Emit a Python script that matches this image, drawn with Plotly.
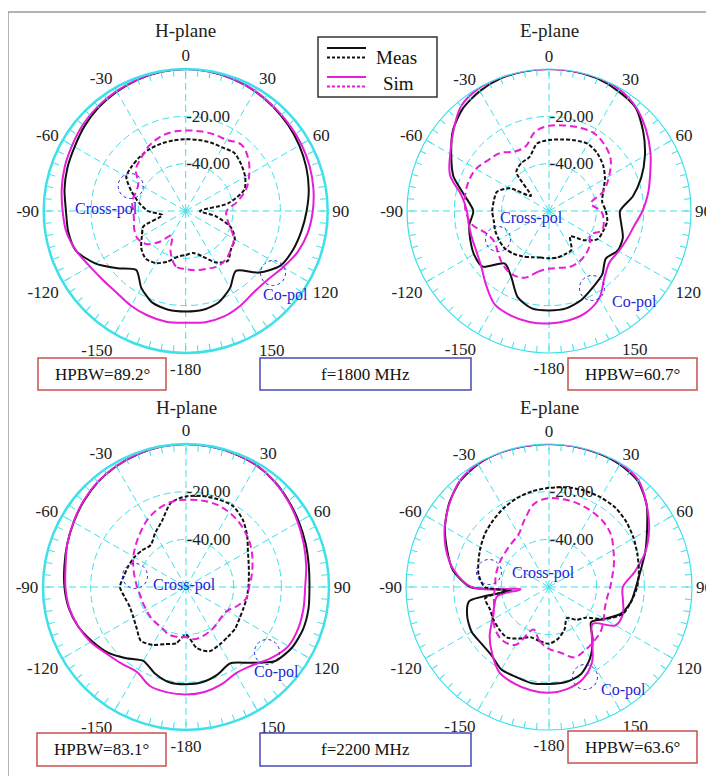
import plotly.graph_objects as go

# ---------------- data (dB, normalised) ----------------
theta = [-180,-170,-160,-150,-140,-130,-120,-110,-100,-90,-80,-70,-60,-50,-40,-30,-20,-10,
         0,10,20,30,40,50,60,70,80,90,100,110,120,130,140,150,160,170,180]
theta4 = [-180,-170,-160,-150,-140,-130,-120,-110,-100,-95,-90,-80,-70,-60,-50,-40,-30,-20,-10,
          0,10,20,30,40,50,60,70,80,90,100,110,120,130,140,150,160,170,180]

# H-plane, 1800 MHz
h1800_sim_co = [-12.8,-12.5,-13.0,-13.8,-14.8,-14.5,-13.2,-10.8,-8.8,-8.0,-6.8,-5.6,-4.6,-3.3,-2.3,-1.5,-0.8,-0.2,
                0,-0.2,-0.7,-1.4,-2.3,-3.0,-3.6,-4.3,-5.2,-6.3,-7.6,-9.6,-12.5,-14.8,-15.2,-13.8,-12.6,-12.3,-12.8]
h1800_meas_co = [-17.5,-17.6,-18.8,-22.5,-27.5,-22.4,-15.8,-10.7,-9.6,-9.4,-8.0,-6.8,-5.8,-4.2,-2.8,-1.8,-0.9,-0.3,
                 0,-0.3,-0.8,-1.5,-2.5,-3.5,-4.6,-5.8,-7.2,-8.9,-10.4,-11.8,-13.8,-19.5,-27.0,-22.5,-19.0,-17.6,-17.5]
h1800_sim_x = [-35.4,-36.2,-41.4,-48.0,-43.0,-38.3,-36.6,-36.9,-37.8,-37.9,-37.0,-37.5,-36.9,-32.5,-30.8,-28.5,-27.0,-26.2,
               -26.0,-25.8,-25.5,-25.3,-23.4,-25.5,-29.0,-32.8,-38.0,-42.7,-42.3,-40.0,-36.5,-35.0,-33.5,-33.0,-34.0,-34.6,-35.4]
h1800_meas_x = [-41.4,-40.4,-37.2,-34.6,-33.7,-35.5,-38.6,-41.0,-50.0,-44.0,-40.0,-35.6,-31.0,-30.4,-30.0,-29.7,-29.7,-29.7,
                -29.7,-29.5,-29.2,-29.0,-28.0,-29.4,-31.0,-33.6,-42.0,-54.0,-47.0,-39.6,-36.0,-35.0,-32.4,-35.0,-39.7,-42.0,-41.4]

# E-plane, 1800 MHz
e1800_sim_co = [-12.5,-12.4,-13.0,-14.3,-18.8,-22.8,-24.8,-25.5,-25.6,-25.3,-22.5,-15.5,-11.8,-7.3,-2.2,-0.3,0,0,
                0,0,0,-0.6,-2.8,-6.5,-10.5,-14.5,-17.5,-20.5,-23.5,-25.0,-26.0,-26.5,-23.5,-17.5,-14.3,-13.0,-12.5]
e1800_meas_co = [-18.0,-18.2,-21.3,-28.0,-31.0,-23.4,-23.4,-24.6,-25.8,-28.0,-24.0,-17.0,-12.3,-7.0,-3.4,-1.5,-0.4,0,
                 0,0,-0.4,-1.5,-3.0,-8.0,-13.2,-18.5,-24.0,-30.0,-29.0,-26.8,-26.5,-28.7,-25.0,-22.8,-20.0,-18.2,-18.0]
e1800_sim_x = [-35.6,-34.0,-30.0,-29.0,-30.0,-32.0,-33.5,-32.0,-27.0,-24.8,-24.0,-23.8,-24.4,-26.5,-28.0,-31.0,-31.0,-26.0,
               -24.0,-23.3,-22.5,-22.0,-23.5,-26.0,-30.7,-35.5,-42.0,-38.0,-36.5,-36.2,-39.7,-37.5,-36.0,-35.0,-34.8,-35.6,-35.6]
e1800_meas_x = [-40.0,-40.0,-39.2,-37.8,-36.5,-35.5,-35.6,-35.8,-36.3,-36.0,-36.3,-36.5,-40.8,-50.0,-38.5,-36.6,-35.8,-31.0,
                -30.0,-29.3,-28.2,-27.2,-28.2,-30.1,-32.7,-35.6,-37.2,-36.0,-35.0,-35.6,-36.2,-40.8,-46.0,-41.0,-40.5,-40.0,-40.0]

# H-plane, 2200 MHz
h2200_sim_co = [-14.9,-15.1,-15.8,-18.8,-18.0,-16.5,-13.8,-11.8,-10.2,-9.4,-8.7,-7.0,-5.5,-3.8,-2.4,-1.4,-0.7,-0.2,
                0,-0.2,-0.4,-0.9,-2.3,-4.0,-5.8,-7.4,-8.8,-10.0,-9.9,-9.8,-10.4,-13.5,-17.0,-18.2,-16.5,-15.3,-14.9]
h2200_meas_co = [-19.2,-19.4,-21.5,-24.2,-21.0,-17.2,-14.5,-11.8,-10.0,-9.0,-8.2,-7.0,-5.6,-4.0,-2.5,-1.5,-0.8,-0.2,
                 0,-0.2,-0.5,-1.0,-2.2,-3.8,-5.3,-6.6,-7.7,-8.2,-7.8,-7.8,-8.8,-11.5,-18.5,-23.0,-21.0,-19.5,-19.2]
h2200_sim_x = [-38.9,-38.8,-38.8,-40.0,-40.4,-40.5,-40.8,-40.7,-40.5,-39.5,-38.2,-36.5,-34.5,-32.5,-30.2,-27.5,-25.3,-23.8,
               -23.4,-23.1,-23.1,-23.8,-25.0,-26.6,-28.3,-30.3,-32.0,-33.5,-34.2,-37.0,-40.0,-40.5,-39.8,-39.0,-38.3,-37.8,-38.9]
h2200_meas_x = [-40.0,-36.0,-34.5,-32.0,-30.5,-33.0,-34.5,-35.0,-34.0,-32.3,-33.5,-34.3,-35.0,-36.0,-37.0,-34.0,-30.5,-24.0,
                -22.0,-21.2,-20.8,-20.7,-23.0,-26.5,-30.0,-32.0,-33.2,-33.8,-34.1,-34.3,-34.0,-33.0,-32.7,-32.0,-31.3,-34.0,-40.0]

# E-plane, 2200 MHz (uses theta4)
e2200_sim_co = [-15.6,-16.0,-17.0,-18.5,-23.0,-27.5,-32.5,-35.5,-38.0,-48.0,-27.5,-19.5,-14.0,-9.5,-5.5,-1.8,-0.3,0,0,
                0,0,0,-0.2,-1.6,-6.5,-11.5,-17.0,-23.5,-29.0,-28.5,-27.0,-27.8,-36.0,-32.0,-23.8,-18.8,-16.5,-15.6]
e2200_meas_co = [-19.3,-19.0,-19.8,-20.0,-22.5,-23.0,-22.5,-23.5,-26.0,-44.0,-27.0,-19.0,-14.5,-9.6,-5.3,-2.0,-0.5,0,0,
                 0,0,-0.2,-0.6,-2.0,-6.5,-12.5,-17.0,-21.0,-23.5,-25.0,-27.7,-33.2,-37.0,-31.5,-25.5,-21.0,-19.5,-19.3]
e2200_sim_x = [-34.0,-37.0,-41.0,-32.0,-30.3,-31.0,-33.0,-35.5,-36.5,-37.0,-37.5,-37.2,-37.0,-36.8,-36.5,-35.8,-34.5,-30.0,-24.5,
               -22.7,-22.7,-23.0,-23.6,-24.4,-26.0,-28.8,-31.0,-33.0,-34.3,-35.2,-35.0,-33.5,-31.5,-30.5,-29.5,-28.6,-32.0,-34.0]
e2200_meas_x = [-36.2,-37.0,-37.6,-35.0,-32.4,-32.6,-33.0,-33.5,-32.8,-42.0,-33.0,-30.0,-28.5,-26.8,-25.0,-23.5,-21.8,-20.4,-19.2,
                -18.4,-17.5,-16.9,-16.6,-16.6,-17.6,-19.0,-20.5,-21.7,-23.0,-25.0,-27.0,-33.0,-40.0,-42.0,-45.0,-41.0,-38.0,-36.2]

plane_titles = ["H-plane", "E-plane", "H-plane", "E-plane"]
hpbw_labels = ["HPBW=89.2°", "HPBW=60.7°", "HPBW=83.1°", "HPBW=63.6°"]
freq_labels = ["f=1800 MHz", "f=2200 MHz"]
angle_labels = {0: "0", 30: "30", 60: "60", 90: "90", 120: "120", 150: "150", 180: "-180",
                210: "-150", 240: "-120", 270: "-90", 300: "-60", 330: "-30"}
radial_ticks = [-20, -40]
radial_text = ["-20.00", "-40.00"]
legend_names = ["Meas", "Sim"]

# ---------------- styling ----------------
# the page body has an 8 px margin, so the figure is 8 px smaller and all
# positions below (measured on the 714x776 page) are shifted by 8 px.
OFF = 8
W, H = 714 - OFF, 776 - OFF
CYAN = "#3ee0ea"
MAG = "#e61ed6"
BLK = "#111111"
BLUE = "#2626d4"
SERIF = "Liberation Serif, Times New Roman, serif"

def X(x): return (x - OFF) / W
def Y(y): return 1 - (y - OFF) / H

panels = [
    dict(key="polar",  cx=185.7, cy=211, r=142, lw=2.5,
         data=(theta, h1800_meas_co, h1800_sim_co, h1800_meas_x, h1800_sim_x)),
    dict(key="polar2", cx=549.0, cy=211, r=142, lw=1.2,
         data=(theta, e1800_meas_co, e1800_sim_co, e1800_meas_x, e1800_sim_x)),
    dict(key="polar3", cx=186.0, cy=587, r=143, lw=2.5,
         data=(theta, h2200_meas_co, h2200_sim_co, h2200_meas_x, h2200_sim_x)),
    dict(key="polar4", cx=549.0, cy=587, r=143, lw=1.2,
         data=(theta4, e2200_meas_co, e2200_sim_co, e2200_meas_x, e2200_sim_x)),
]

fig = go.Figure()
tickvals = list(range(0, 360, 5))
ticktext = [angle_labels.get(v, "") for v in tickvals]

for p in panels:
    sp = p["key"]
    sr, st = [], []
    for a in range(0, 360, 30):
        sr += [-60, 0, None]
        st += [a, a, None]
    fig.add_trace(go.Scatterpolar(r=sr, theta=st, mode="lines", subplot=sp,
                                  line=dict(color=CYAN, width=1, dash="7px,4px"),
                                  hoverinfo="skip", showlegend=False))
    th, mco, sco, mx, sx = p["data"]
    fig.add_trace(go.Scatterpolar(r=mco, theta=th, mode="lines", subplot=sp,
                                  line=dict(color=BLK, width=2, shape="spline", smoothing=0.7),
                                  showlegend=False))
    fig.add_trace(go.Scatterpolar(r=sco, theta=th, mode="lines", subplot=sp,
                                  line=dict(color=MAG, width=2, shape="spline"), showlegend=False))
    fig.add_trace(go.Scatterpolar(r=mx, theta=th, mode="lines", subplot=sp,
                                  line=dict(color=BLK, width=2, dash="4px,2px", shape="spline",
                                            smoothing=0.7), showlegend=False))
    fig.add_trace(go.Scatterpolar(r=sx, theta=th, mode="lines", subplot=sp,
                                  line=dict(color=MAG, width=2, dash="7px,4px", shape="spline"),
                                  showlegend=False))
    fig.layout[sp] = dict(
        domain=dict(x=[X(p["cx"] - p["r"]), X(p["cx"] + p["r"])],
                    y=[Y(p["cy"] + p["r"]), Y(p["cy"] - p["r"])]),
        bgcolor="white",
        angularaxis=dict(rotation=90, direction="clockwise", tickmode="array",
                         tickvals=tickvals, ticktext=ticktext, ticks="inside", ticklen=6,
                         tickwidth=1, tickcolor=CYAN, showline=True, linecolor=CYAN,
                         linewidth=p["lw"], showgrid=False,
                         tickfont=dict(family=SERIF, size=17, color="#222")),
        radialaxis=dict(range=[-60, 0], tickmode="array", tickvals=radial_ticks,
                        ticktext=radial_text, showline=False, ticks="", angle=90,
                        tickangle=90, showgrid=True, gridcolor=CYAN, griddash="7px,4px",
                        gridwidth=1, tickfont=dict(family=SERIF, size=17, color="#222")),
    )

annotations = []
shapes = []

def text(x, y, t, size, color="#111"):
    annotations.append(dict(x=X(x), y=Y(y), text=t, showarrow=False, xref="paper",
                            yref="paper", xanchor="center", yanchor="middle",
                            font=dict(family=SERIF, size=size, color=color)))

for p, t in zip(panels, plane_titles):
    text(p["cx"], p["cy"] - 180, t, 19, "#222")

def box(x0, y0, x1, y1, color, t):
    shapes.append(dict(type="rect", xref="paper", yref="paper", x0=X(x0), x1=X(x1),
                       y0=Y(y1), y1=Y(y0), line=dict(color=color, width=1.5),
                       fillcolor="white"))
    text((x0 + x1) / 2, (y0 + y1) / 2, t, 17)

RED = "#c8504c"
BOXB = "#4a4ab8"
box(38, 358, 166, 390, RED, hpbw_labels[0])
box(260, 358, 471, 390, BOXB, freq_labels[0])
box(568, 358, 697, 390, RED, hpbw_labels[1])
box(37, 733, 166, 766, RED, hpbw_labels[2])
box(260, 733, 471, 766, BOXB, freq_labels[1])
box(568, 731, 697, 763, RED, hpbw_labels[3])

def marker(cx, cy, tx, ty, t):
    shapes.append(dict(type="circle", xref="paper", yref="paper",
                       x0=X(cx - 12.5), x1=X(cx + 12.5), y0=Y(cy + 12.5), y1=Y(cy - 12.5),
                       line=dict(color=BLUE, width=1, dash="dot")))
    text(tx, ty, t, 16, BLUE)

marker(130.7, 186, 106, 209, "Cross-pol")
marker(273, 273, 285, 295, "Co-pol")
marker(498, 239, 531, 218, "Cross-pol")
marker(592, 288, 634, 302, "Co-pol")
marker(135, 576, 184, 585, "Cross-pol")
marker(267, 652, 276, 672, "Co-pol")
marker(489, 572, 543, 573, "Cross-pol")
marker(585, 677, 623, 690, "Co-pol")

# legend box
shapes.append(dict(type="rect", xref="paper", yref="paper", x0=X(318), x1=X(437),
                   y0=Y(97), y1=Y(37), line=dict(color="#333", width=1.5), fillcolor="white"))
for yy, col, dash in [(48, BLK, "solid"), (57.5, BLK, "3px,2px"), (77, MAG, "solid"), (86.5, MAG, "3px,2px")]:
    shapes.append(dict(type="line", xref="paper", yref="paper", x0=X(327), x1=X(366),
                       y0=Y(yy), y1=Y(yy), line=dict(color=col, width=2, dash=dash)))
text(396, 58, legend_names[0], 19)
text(399, 83, legend_names[1], 19)

# outer frame
shapes.append(dict(type="line", xref="paper", yref="paper", x0=X(8), x1=X(8), y0=0, y1=Y(12),
                   line=dict(color="#9a9a9a", width=1.5)))
shapes.append(dict(type="line", xref="paper", yref="paper", x0=X(8), x1=1, y0=Y(12), y1=Y(12),
                   line=dict(color="#9a9a9a", width=1.5)))

fig.update_layout(width=W, height=H, margin=dict(l=0, r=0, t=0, b=0),
                  paper_bgcolor="white", plot_bgcolor="white", showlegend=False,
                  annotations=annotations, shapes=shapes)

fig.write_html("out.html")
